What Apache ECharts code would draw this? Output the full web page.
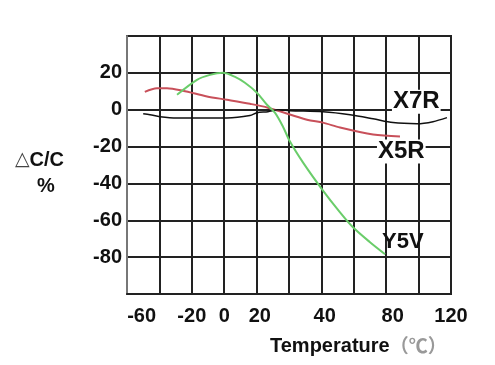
<!DOCTYPE html>
<html>
<head>
<meta charset="utf-8">
<script src="https://cdn.jsdelivr.net/npm/echarts@6/dist/echarts.min.js"></script>
<style>html,body{margin:0;padding:0;background:#fff}#c{width:495px;height:365px}</style>
</head>
<body>
<div id="c"></div>
<script>
// Axis values (horizontal axis drawn with 20-unit grid columns as in the reference)
var xTickLabels = ['-60', '-20', '0', '20', '40', '80', '120'];
var xTickAt = [-51, -20, 0, 22, 62, 104, 140];
var yTickValues = [20, 0, -20, -40, -60, -80];

// Y5V (green)
var y5vX = [-29.1, -16.8, -8.8, -0.7, 6.7, 12.8, 20.2, 26.4, 31.3, 36.3, 40.6, 48.6, 60.4, 71.5, 79.5, 90, 99.3];
var y5vY = [8.1, 16.2, 18.9, 20, 17.8, 14.6, 9.2, 2.7, -1.6, -9.2, -17.3, -28.6, -43.2, -55.7, -63.8, -71.9, -78.4];
// X5R (red)
var x5rX = [-49, -41.5, -35.3, -25.4, -10.6, 1.7, 15.9, 27, 51.1, 61, 71.5, 91.9, 108.5];
var x5rY = [9.7, 11.7, 11.7, 10.3, 7.2, 5.4, 3.2, 1.1, -5.4, -7.0, -9.7, -13.5, -14.6];
// X7R (black)
var x7rX = [-50, -45.8, -39.6, -29.1, -14.9, 1.7, 15.9, 20.2, 27, 33.2, 40.6, 61, 77.7, 91.9, 104.2, 119, 128.9, 137.5];
var x7rY = [-2.2, -2.7, -3.8, -4.5, -4.5, -4.5, -3.2, -1.6, -1.1, 0, -0.5, -1.1, -2.7, -4.9, -7, -7.6, -6.5, -4.3];

function pairs(xs, ys) { return xs.map(function (x, i) { return [x, ys[i]]; }); }

var FONT = '"Liberation Sans", Arial, sans-serif';
var chart = echarts.init(document.getElementById('c'), null, { renderer: 'canvas' });

function lbl(offset) {
  return {
    show: true,
    formatter: '{a}',
    offset: offset,
    fontFamily: FONT,
    fontWeight: 'bold',
    fontSize: 24,
    color: '#111',
    backgroundColor: '#fff',
    padding: [0, 1, 0, 1]
  };
}

chart.setOption({
  animation: false,
  backgroundColor: '#fff',
  title: [
    {
      text: '{a|Temperature}{b|（℃）}',
      left: 265, top: 331,
      textStyle: {
        rich: {
          a: { fontFamily: FONT, fontWeight: 'bold', fontSize: 20, color: '#111' },
          b: { fontFamily: '"Noto Sans CJK SC", sans-serif', fontSize: 19, color: '#999' }
        }
      }
    },
    {
      text: '{t|△}{c|C/C}\n{p|%}',
      left: 10, top: 142,
      textAlign: 'left',
      textStyle: {
        lineHeight: 26,
        rich: {
          t: { fontFamily: '"DejaVu Sans", sans-serif', fontSize: 19, color: '#444', lineHeight: 26 },
          c: { fontFamily: FONT, fontWeight: 'bold', fontSize: 20, color: '#111', lineHeight: 26 },
          p: { fontFamily: FONT, fontWeight: 'bold', fontSize: 20, color: '#111', lineHeight: 26, padding: [0, 0, 0, 22] }
        }
      }
    }
  ],
  grid: { left: 127, right: 44, top: 36, bottom: 71, show: true, borderColor: '#222', borderWidth: 2 },
  xAxis: {
    type: 'value', min: -60, max: 140, interval: 20,
    axisLine: { show: true, onZero: false, lineStyle: { color: '#222', width: 2 } },
    axisTick: { show: false },
    splitLine: { show: true, lineStyle: { color: '#222', width: 2 } },
    axisLabel: {
      customValues: xTickAt,
      formatter: function (v) { var i = xTickAt.indexOf(v); return i >= 0 ? xTickLabels[i] : ''; },
      margin: 12, fontFamily: FONT, fontWeight: 'bold', fontSize: 20, color: '#111'
    }
  },
  yAxis: {
    type: 'value', min: -100, max: 40, interval: 20,
    axisLine: { show: true, onZero: false, lineStyle: { color: '#777', width: 2 } },
    axisTick: { show: false },
    splitLine: { show: true, lineStyle: { color: '#222', width: 2 } },
    axisLabel: {
      customValues: yTickValues,
      margin: 5, fontFamily: FONT, fontWeight: 'bold', fontSize: 20, color: '#111'
    }
  },
  series: [
    {
      name: 'X5R', type: 'line', smooth: 0.3, showSymbol: false,
      data: pairs(x5rX, x5rY),
      lineStyle: { color: '#c8505a', width: 2 },
      endLabel: lbl([-31, 15]), z: 3
    },
    {
      name: 'X7R', type: 'line', smooth: 0.3, showSymbol: false,
      data: pairs(x7rX, x7rY),
      lineStyle: { color: '#111', width: 1.5 },
      endLabel: lbl([-63, -16]), z: 4
    },
    {
      name: 'Y5V', type: 'line', smooth: 0.3, showSymbol: false,
      data: pairs(y5vX, y5vY),
      lineStyle: { color: '#6acd6a', width: 2 },
      endLabel: Object.assign(lbl([-12, -12]), { fontSize: 22, backgroundColor: 'transparent' }), z: 5
    }
  ]
});
</script>
</body>
</html>
